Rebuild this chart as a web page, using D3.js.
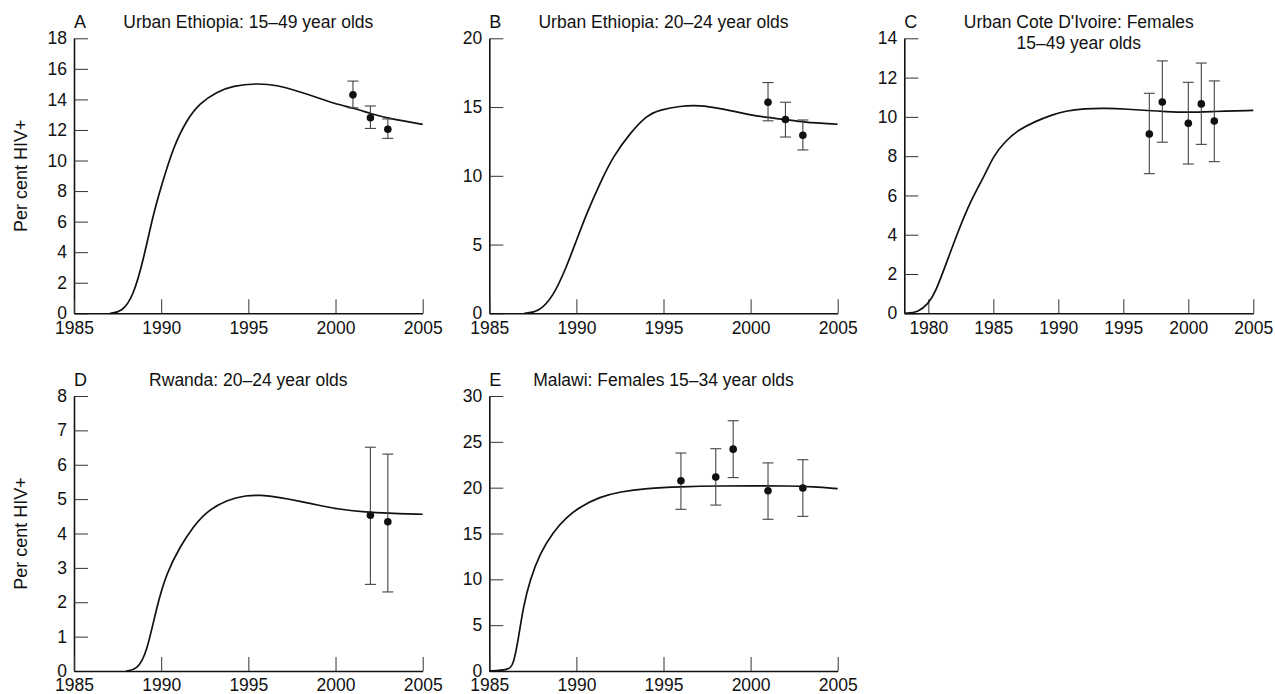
<html>
<head>
	<title>HIV prevalence model fits</title>
	<style>
		body { margin: 0; background: #fff; }
		text { font-family: "Liberation Sans", Arial, sans-serif; fill: #111; }
	</style>
</head>
<body>
	<script src="https://cdnjs.cloudflare.com/ajax/libs/d3/7.8.5/d3.min.js"></script>
	<script type="text/javascript">
		// ---- data ----
		// A: Urban Ethiopia 15-49
		var curveYearsA = [1987.06, 1987.73, 1988.4, 1988.98, 1989.55, 1990.0, 1990.7, 1991.46, 1992.2, 1993.2, 1994.1, 1995.5, 1996.6, 1997.96, 1999.1, 2000.0, 2001.08, 2002.07, 2003.03, 2005.0];
		var curveA = [0, 0.07, 1.1, 3.5, 6.5, 8.3, 10.9, 12.65, 13.75, 14.5, 14.9, 15.05, 14.95, 14.5, 14.07, 13.7, 13.42, 13.05, 12.76, 12.37];
		var obsYearsA = [2001, 2002, 2003];
		var obsA = [14.3, 12.8, 12.05];
		var lowA = [13.45, 12.1, 11.45];
		var highA = [15.2, 13.57, 12.72];

		// B: Urban Ethiopia 20-24
		var curveYearsB = [1987.0, 1987.8, 1988.67, 1989.44, 1990.0, 1990.6, 1991.35, 1992.1, 1993.08, 1994.03, 1994.8, 1995.95, 1997.1, 1998.25, 1999.4, 2000.5, 2001.98, 2003.0, 2005.0];
		var curveB = [0, 0.05, 1.2, 3.4, 5.3, 7.3, 9.45, 11.4, 13.1, 14.4, 14.8, 15.08, 15.13, 14.9, 14.6, 14.3, 14.1, 13.9, 13.75];
		var obsYearsB = [2001, 2002, 2003];
		var obsB = [15.35, 14.1, 12.95];
		var lowB = [14.0, 12.82, 11.88];
		var highB = [16.78, 15.35, 14.06];

		// C: Urban Cote D'Ivoire females 15-49
		var curveYearsC = [1978.2, 1979.2, 1980.0, 1980.5, 1981.3, 1982.3, 1983.3, 1984.4, 1985.0, 1985.9, 1986.9, 1988.2, 1989.5, 1990.5, 1992.05, 1993.6, 1995.4, 1996.9, 1998.2, 2000.0, 2001.8, 2005.0];
		var curveC = [0, 0.03, 0.5, 1.0, 2.4, 4.2, 5.8, 7.1, 8.0, 8.75, 9.33, 9.76, 10.1, 10.3, 10.42, 10.44, 10.39, 10.32, 10.27, 10.23, 10.27, 10.33];
		var obsYearsC = [1997, 1998, 2000, 2001, 2002];
		var obsC = [9.13, 10.76, 9.67, 10.66, 9.79];
		var lowC = [7.11, 8.71, 7.6, 8.6, 7.72];
		var highC = [11.2, 12.85, 11.76, 12.74, 11.83];

		// D: Rwanda 20-24
		var curveYearsD = [1987.98, 1988.6, 1989.17, 1989.74, 1990.3, 1991.08, 1991.84, 1992.6, 1993.76, 1994.9, 1995.67, 1996.8, 1997.96, 1999.1, 2000.26, 2001.8, 2002.9, 2005.0];
		var curveD = [0, 0.03, 0.51, 1.87, 2.84, 3.62, 4.2, 4.64, 4.98, 5.11, 5.12, 5.05, 4.94, 4.81, 4.7, 4.62, 4.59, 4.56];
		var obsYearsD = [2002, 2003];
		var obsD = [4.53, 4.34];
		var lowD = [2.52, 2.3];
		var highD = [6.51, 6.31];

		// E: Malawi females 15-34
		var curveYearsE = [1985.0, 1986.1, 1986.38, 1986.66, 1986.95, 1987.33, 1987.9, 1988.67, 1989.44, 1990.2, 1991.35, 1992.5, 1994.03, 1995.95, 1998.25, 2000.15, 2002.05, 2003.6, 2005.0];
		var curveE = [0, 0.1, 0.65, 3.4, 7.0, 9.9, 12.8, 15.2, 16.8, 17.9, 19.0, 19.56, 19.93, 20.1, 20.2, 20.2, 20.2, 20.1, 19.9];
		var obsYearsE = [1996, 1998, 1999, 2001, 2003];
		var obsE = [20.76, 21.16, 24.2, 19.67, 19.96];
		var lowE = [17.64, 18.1, 21.1, 16.55, 16.87];
		var highE = [23.78, 24.25, 27.3, 22.7, 23.05];

		var yearTicks = [1985, 1990, 1995, 2000, 2005];
		var yearTicksC = [1980, 1985, 1990, 1995, 2000, 2005];

		var svg = d3.select("body")
					.append("svg")
					.attr("width", 1275)
					.attr("height", 694);

		function drawPanel(opt){
			var x = d3.scaleLinear().domain(opt.xDomain).range([opt.left, opt.right]);
			var y = d3.scaleLinear().domain(opt.yDomain).range([opt.bottom, opt.top]);
			var g = svg.append("g");

			var yAxis = g.append("g")
						.attr("transform", "translate(" + opt.left + ",0)")
						.call(d3.axisLeft(y).tickValues(opt.yTicks).tickSizeInner(-14).tickSizeOuter(0).tickPadding(7));
			var xAxis = g.append("g")
						.attr("transform", "translate(0," + opt.bottom + ")")
						.call(d3.axisBottom(x).tickValues(opt.xTicks).tickSizeInner(-14).tickSizeOuter(0).tickPadding(8).tickFormat(d3.format("d")));
			[yAxis, xAxis].forEach(function(a){
				a.select(".domain").style("stroke", "#111").style("stroke-width", "1.6px");
				a.selectAll(".tick line").style("stroke", "#333").style("stroke-width", "1px");
				a.selectAll(".tick text").style("font-size", "17.5px").style("fill", "#111");
			});

			var pts = opt.curveYears.map(function(d, i){ return [d, opt.curve[i]]; });
			g.append("path")
				.datum(pts)
				.attr("d", d3.line()
					.x(function(d){ return x(d[0]); })
					.y(function(d){ return y(d[1]); })
					.curve(d3.curveBasis))
				.style("fill", "none")
				.style("stroke", "#111")
				.style("stroke-width", "1.7px");

			var obs = opt.obsYears.map(function(d, i){
				return {year: d, v: opt.obs[i], lo: opt.low[i], hi: opt.high[i]};
			});
			var bars = g.selectAll(".err").data(obs).enter().append("g").attr("class", "err");
			bars.append("line")
				.attr("x1", function(d){ return x(d.year); })
				.attr("x2", function(d){ return x(d.year); })
				.attr("y1", function(d){ return y(d.lo); })
				.attr("y2", function(d){ return y(d.hi); });
			bars.append("line")
				.attr("x1", function(d){ return x(d.year) - 5.5; })
				.attr("x2", function(d){ return x(d.year) + 5.5; })
				.attr("y1", function(d){ return y(d.hi); })
				.attr("y2", function(d){ return y(d.hi); });
			bars.append("line")
				.attr("x1", function(d){ return x(d.year) - 5.5; })
				.attr("x2", function(d){ return x(d.year) + 5.5; })
				.attr("y1", function(d){ return y(d.lo); })
				.attr("y2", function(d){ return y(d.lo); });
			bars.selectAll("line")
				.style("stroke", "#444")
				.style("stroke-width", "1.1px");
			bars.append("circle")
				.attr("cx", function(d){ return x(d.year); })
				.attr("cy", function(d){ return y(d.v); })
				.attr("r", 3.8)
				.style("fill", "#111");

			g.append("text")
				.attr("x", opt.left)
				.attr("y", opt.top - 10)
				.style("font-size", "18px")
				.text(opt.letter);

			// first title line sits 10px above the plot top, a second line drops below it
			var title = g.append("text")
				.attr("text-anchor", "middle")
				.attr("x", (opt.left + opt.right) / 2)
				.attr("y", opt.top - 10)
				.style("font-size", "17.5px");
			title.selectAll("tspan").data(opt.title).enter().append("tspan")
				.attr("x", (opt.left + opt.right) / 2)
				.attr("dy", function(d, i){ return i ? 20.6 : 0; })
				.text(function(d){ return d; });

			if(opt.ylabel){
				g.append("text")
					.attr("text-anchor", "middle")
					.attr("transform", "translate(27," + ((opt.top + opt.bottom) / 2) + ") rotate(-90)")
					.style("font-size", "18px")
					.text("Per cent HIV+");
			}
		}

		drawPanel({letter: "A", title: ["Urban Ethiopia: 15\u201349 year olds"], ylabel: true,
			left: 74, right: 422.7, top: 38.3, bottom: 313.3,
			xDomain: [1985, 2005], yDomain: [0, 18], xTicks: yearTicks, yTicks: d3.range(0, 19, 2),
			curveYears: curveYearsA, curve: curveA, obsYears: obsYearsA, obs: obsA, low: lowA, high: highA});
		drawPanel({letter: "B", title: ["Urban Ethiopia: 20\u201324 year olds"],
			left: 489.3, right: 837.7, top: 38.3, bottom: 313.3,
			xDomain: [1985, 2005], yDomain: [0, 20], xTicks: yearTicks, yTicks: d3.range(0, 21, 5),
			curveYears: curveYearsB, curve: curveB, obsYears: obsYearsB, obs: obsB, low: lowB, high: highB});
		drawPanel({letter: "C", title: ["Urban Cote D'Ivoire: Females", "15\u201349 year olds"],
			left: 904.3, right: 1253.3, top: 38.3, bottom: 313.3,
			xDomain: [1978.15, 2005], yDomain: [0, 14], xTicks: yearTicksC, yTicks: d3.range(0, 15, 2),
			curveYears: curveYearsC, curve: curveC, obsYears: obsYearsC, obs: obsC, low: lowC, high: highC});
		drawPanel({letter: "D", title: ["Rwanda: 20\u201324 year olds"], ylabel: true,
			left: 74, right: 422.7, top: 396, bottom: 671,
			xDomain: [1985, 2005], yDomain: [0, 8], xTicks: yearTicks, yTicks: d3.range(0, 9, 1),
			curveYears: curveYearsD, curve: curveD, obsYears: obsYearsD, obs: obsD, low: lowD, high: highD});
		drawPanel({letter: "E", title: ["Malawi: Females 15\u201334 year olds"],
			left: 489.3, right: 837.7, top: 396, bottom: 671,
			xDomain: [1985, 2005], yDomain: [0, 30], xTicks: yearTicks, yTicks: d3.range(0, 31, 5),
			curveYears: curveYearsE, curve: curveE, obsYears: obsYearsE, obs: obsE, low: lowE, high: highE});
	</script>
</body>
</html>
